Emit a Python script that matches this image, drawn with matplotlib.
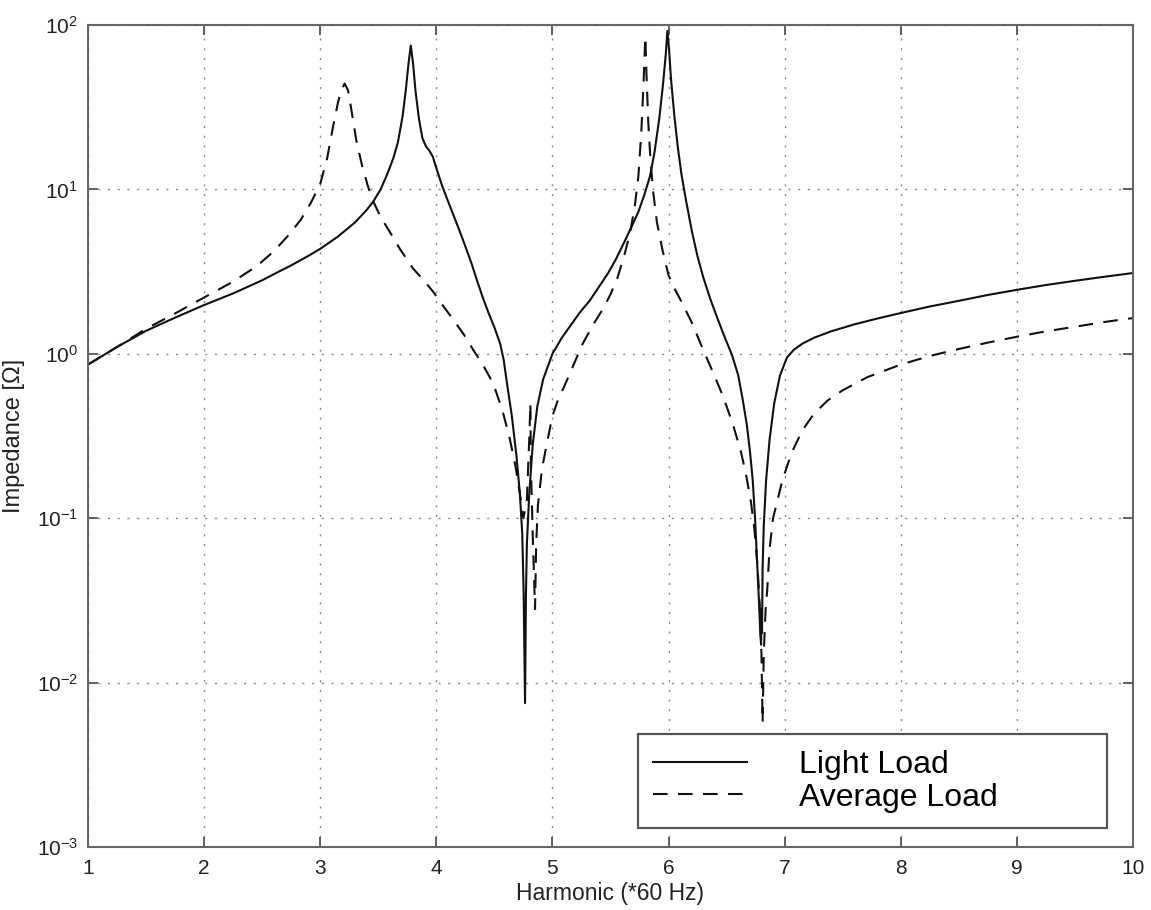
import numpy as np
import matplotlib
matplotlib.use("Agg")
import matplotlib.pyplot as plt
from matplotlib.ticker import FixedLocator, FuncFormatter, NullLocator

plt.rcParams["font.family"] = ["Liberation Sans", "DejaVu Sans"]

# harmonic order (*60 Hz) and impedance magnitude [ohm]
light_x = [1.0, 1.25, 1.5, 1.75, 2.0, 2.25, 2.5, 2.62, 2.75, 2.9, 3.0, 3.15,
           3.3, 3.4, 3.455, 3.52, 3.58, 3.63, 3.67, 3.71, 3.74, 3.76, 3.78,
           3.80, 3.82, 3.85, 3.88, 3.91, 3.94, 3.97, 4.0, 4.05, 4.1, 4.15,
           4.2, 4.25, 4.3, 4.35, 4.4, 4.45, 4.5, 4.55, 4.58, 4.61, 4.65, 4.69,
           4.72, 4.74, 4.752, 4.764, 4.772, 4.78, 4.80, 4.83, 4.87, 4.92, 5.0,
           5.08, 5.16, 5.24, 5.32, 5.4, 5.48, 5.55, 5.62, 5.68, 5.74, 5.79,
           5.84, 5.88, 5.92, 5.95, 5.975, 5.99, 6.005, 6.02, 6.05, 6.08, 6.11,
           6.15, 6.2, 6.25, 6.3, 6.36, 6.42, 6.48, 6.547, 6.6, 6.64, 6.674,
           6.70, 6.725, 6.745, 6.765, 6.78, 6.79, 6.797, 6.80, 6.805, 6.81,
           6.82, 6.84, 6.87, 6.91, 6.96, 7.02, 7.08, 7.15, 7.25, 7.4, 7.6, 7.8,
           8.0, 8.25, 8.5, 8.75, 9.0, 9.25, 9.5, 9.75, 10.0]
light_y = [0.86, 1.1, 1.38, 1.66, 1.98, 2.33, 2.8, 3.1, 3.45, 3.95, 4.35, 5.15,
           6.3, 7.5, 8.4, 10, 12.5, 15.5, 19.5, 28, 42, 58, 75,
           58, 40, 27, 20.5, 18.3, 17.2, 15.8, 13.5, 10.5, 8.5, 6.9,
           5.6, 4.5, 3.6, 2.8, 2.2, 1.77, 1.45, 1.15, 0.92, 0.65, 0.42, 0.24,
           0.14, 0.08, 0.035, 0.0075, 0.035, 0.07, 0.14, 0.28, 0.48, 0.7, 1.0,
           1.25, 1.5, 1.8, 2.1, 2.55, 3.1, 3.8, 4.8, 5.9, 7.3, 9.2,
           12, 17, 27, 42, 65, 92, 70, 48, 28, 18, 12.5,
           8.6, 5.6, 3.9, 2.9, 2.15, 1.65, 1.28, 0.98, 0.74, 0.52, 0.37,
           0.26, 0.17, 0.1, 0.05, 0.03, 0.02, 0.017, 0.028, 0.02, 0.05,
           0.09, 0.17, 0.3, 0.5, 0.74, 0.95, 1.06, 1.15, 1.25, 1.37, 1.51, 1.64,
           1.77, 1.94, 2.1, 2.28, 2.45, 2.62, 2.78, 2.94, 3.1]

avg_x = [1.0, 1.25, 1.5, 1.75, 2.0, 2.25, 2.45, 2.6, 2.72, 2.83, 2.92, 3.0,
         3.06, 3.11, 3.15, 3.18, 3.21, 3.24, 3.27, 3.31, 3.36, 3.41, 3.455,
         3.52, 3.6, 3.69, 3.8, 3.9, 3.97, 4.06, 4.15, 4.24, 4.32, 4.4, 4.49,
         4.57, 4.63, 4.68, 4.72, 4.75, 4.78, 4.80, 4.81, 4.815, 4.83, 4.85,
         4.86, 4.875, 4.91, 4.95, 5.0, 5.05, 5.1, 5.18, 5.26, 5.35, 5.44,
         5.5, 5.56, 5.62, 5.67, 5.71, 5.74, 5.765, 5.785, 5.80, 5.81, 5.825,
         5.84, 5.865, 5.9, 5.95, 6.0, 6.05, 6.1, 6.2, 6.3, 6.38, 6.47, 6.55,
         6.62, 6.67, 6.71, 6.74, 6.765, 6.785, 6.80, 6.81, 6.82, 6.835, 6.85,
         6.87, 6.9, 6.94, 6.98, 7.06, 7.15, 7.25, 7.37, 7.5, 7.71, 8.0, 8.25,
         8.5, 8.75, 9.0, 9.25, 9.5, 9.75, 10.0]
avg_y = [0.86, 1.1, 1.42, 1.76, 2.2, 2.75, 3.4, 4.2, 5.2, 6.5, 8.3, 10.8,
         15.5, 24, 33, 40, 44, 40, 30, 20, 14, 10.5, 8.5,
         6.8, 5.5, 4.3, 3.3, 2.75, 2.4, 1.95, 1.6, 1.3, 1.05, 0.86, 0.66,
         0.45, 0.31, 0.21, 0.14, 0.1, 0.13, 0.3, 0.5, 0.2, 0.08, 0.028,
         0.07, 0.12, 0.2, 0.28, 0.42, 0.53, 0.63, 0.85, 1.15, 1.5, 1.9,
         2.3, 2.9, 4.0, 5.5, 8.0, 12, 22, 45, 85, 50, 26,
         17, 10, 6.3, 4.2, 3.0, 2.5, 2.15, 1.55, 1.05, 0.78, 0.55, 0.38,
         0.26, 0.18, 0.125, 0.085, 0.052, 0.03, 0.015, 0.0057, 0.015, 0.027, 0.037,
         0.065, 0.1, 0.13, 0.17, 0.25, 0.34, 0.43, 0.52, 0.6, 0.72, 0.86, 0.97,
         1.07, 1.17, 1.27, 1.37, 1.46, 1.56, 1.65]

x_ticks = [1, 2, 3, 4, 5, 6, 7, 8, 9, 10]
y_ticks = [1e-3, 1e-2, 1e-1, 1e0, 1e1, 1e2]

W, H = 1151, 910
fig = plt.figure(figsize=(W / 100, H / 100), dpi=100)
ax = fig.add_axes([88 / W, 1 - 847 / H, (1133 - 88) / W, (847 - 25) / H])

ax.plot(light_x, light_y, color="#111111", lw=1.5, label="Light Load")
ax.plot(avg_x, avg_y, color="#111111", lw=1.5, dashes=(7, 5), label="Average Load")

ax.set_yscale("log")
ax.set_xlim(1, 10)
ax.set_ylim(1e-3, 1e2)
ax.xaxis.set_major_locator(FixedLocator(x_ticks))
ax.yaxis.set_major_locator(FixedLocator(y_ticks))
ax.yaxis.set_minor_locator(NullLocator())
ax.yaxis.set_major_formatter(
    FuncFormatter(lambda v, p: r"$\mathregular{10^{%d}}$" % int(round(np.log10(v)))))

ax.grid(True, color="#8a8a8a", lw=1.0, linestyle=(0, (1.5, 5.5)))
ax.tick_params(which="both", direction="in", length=7, width=1.3,
               top=True, right=True, color="#555555",
               labelsize=15, labelcolor="#222222")
ax.tick_params(axis="x", pad=9)
ax.tick_params(axis="y", pad=7)
for s in ax.spines.values():
    s.set_color("#666666")
    s.set_linewidth(1.5)

ax.set_xlabel("Harmonic (*60 Hz)", fontsize=16.5, color="#222222")
ax.set_ylabel("Impedance [Ω]", fontsize=17, color="#222222")
ax.xaxis.set_label_coords(0.5, -0.0425)
ax.yaxis.set_label_coords(-0.060, 0.5)

leg = ax.legend(loc="lower left",
                bbox_to_anchor=(638 / W, 1 - 828 / H, (1107 - 638) / W, 95 / H),
                bbox_transform=fig.transFigure, mode="expand", borderaxespad=0,
                fontsize=23, handlelength=2.92, handletextpad=1.65,
                labelspacing=0.09, borderpad=0.48, fancybox=False,
                framealpha=1, edgecolor="#555555")
leg.get_frame().set_linewidth(1.6)

fig.savefig("out.png", dpi=100)
